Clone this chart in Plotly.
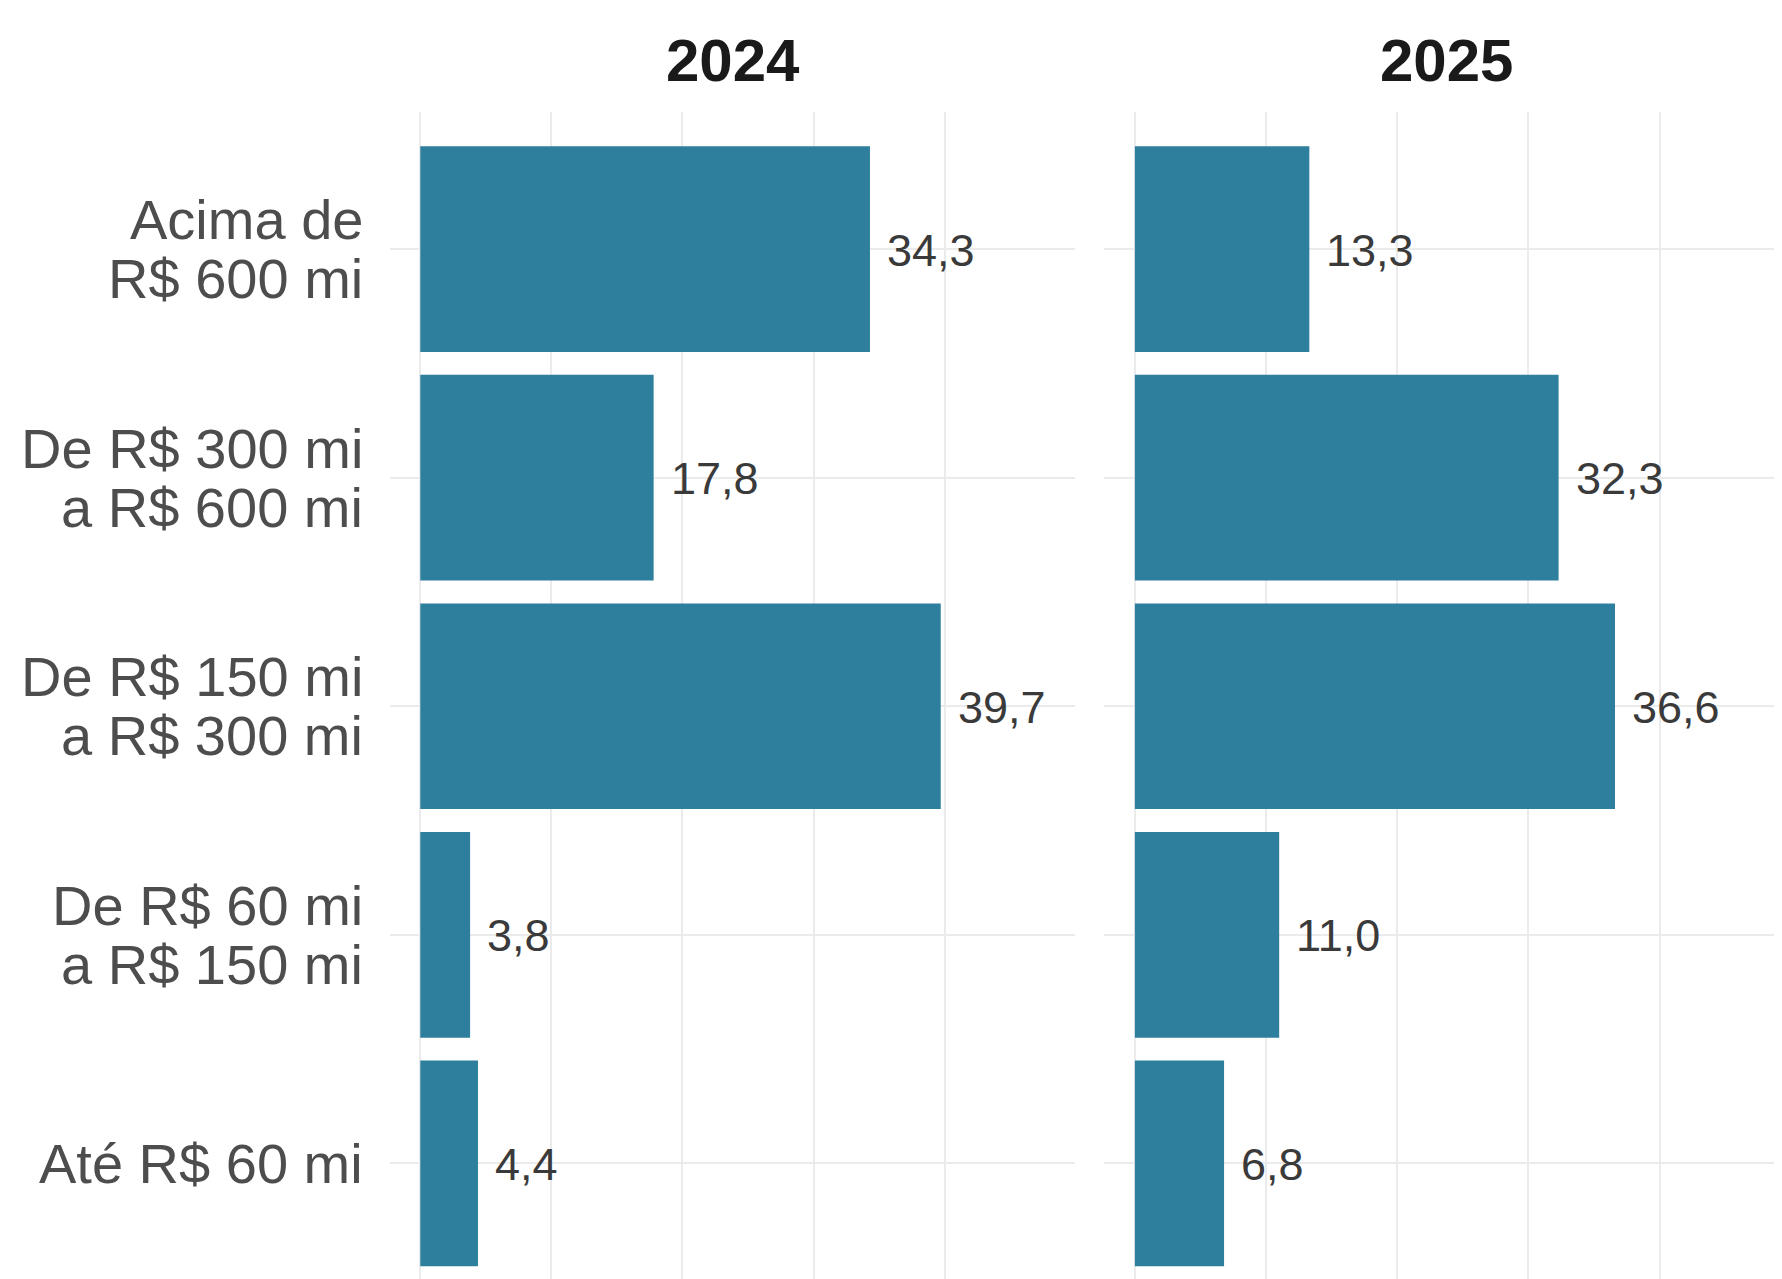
import plotly.graph_objects as go

# ---- data ----
categories = [
    "Acima de<br>R$ 600 mi",
    "De R$ 300 mi<br>a R$ 600 mi",
    "De R$ 150 mi<br>a R$ 300 mi",
    "De R$ 60 mi<br>a R$ 150 mi",
    "Até R$ 60 mi",
]
years = ["2024", "2025"]
values_2024 = [34.3, 17.8, 39.7, 3.8, 4.4]
values_2025 = [13.3, 32.3, 36.6, 11.0, 6.8]
x_ticks = [0, 10, 20, 30, 40]

# ---- styles ----
BAR = "#2E7F9D"
GRID = "#EBEBEB"
FONT = "Liberation Sans, Arial, sans-serif"
OFF = 8  # page body margin
W, H = 1782 - OFF, 1279 - OFF
ML, MT = 390 - OFF, 112 - OFF
PW, PH = W - ML, H - MT


def px_x(sx):
    return (sx - OFF - ML) / PW


fig = go.Figure()
series = [values_2024, values_2025]
for i, vals in enumerate(series):
    fig.add_trace(go.Bar(
        x=vals, y=categories, orientation="h", width=0.9,
        marker=dict(color=BAR, line=dict(width=0)),
        xaxis="x" if i == 0 else "x2", yaxis="y" if i == 0 else "y2",
        hoverinfo="skip", showlegend=False,
    ))

ann = []
# value labels
for i, vals in enumerate(series):
    xr = "x" if i == 0 else "x2"
    yr = "y" if i == 0 else "y2"
    for c, v in zip(categories, vals):
        ann.append(dict(
            x=v, y=c, xref=xr, yref=yr, xanchor="left", yanchor="middle",
            xshift=15, yshift=-1, showarrow=False,
            text=f"{v:.1f}".replace(".", ","),
            font=dict(family=FONT, size=45, color="#3A3A3A"),
        ))
# category labels (line spacing like the reference)
lab_x = px_x(365)
for c in categories:
    lines = c.split("<br>")
    n = len(lines)
    for k, ln in enumerate(lines):
        off = (k - (n - 1) / 2) * 59
        ann.append(dict(
            x=lab_x, y=c, xref="paper", yref="y", xanchor="right", yanchor="middle",
            yshift=-off, showarrow=False, text=ln,
            font=dict(family=FONT, size=56, color="#4D4D4D"),
        ))

d1 = [0, px_x(1075)]
d2 = [px_x(1104.3), 1.0]
# facet titles (panel 2 nominally extends to x=1789, beyond the visible page)
title_y = (H - (61 - OFF)) / PH
for yr, d in zip(years, [d1, [d2[0], px_x(1789)]]):
    ann.append(dict(
        x=(d[0] + d[1]) / 2, y=title_y, xref="paper", yref="paper",
        xanchor="center", yanchor="middle", showarrow=False,
        text=f"<b>{yr}</b>", font=dict(family=FONT, size=60, color="#1A1A1A"),
    ))

xcommon = dict(showticklabels=False, tickvals=x_ticks, showgrid=True,
               gridcolor=GRID, gridwidth=2, zeroline=False, showline=False, ticks="")
ycommon = dict(showticklabels=False, showgrid=True, gridcolor=GRID, gridwidth=2,
               zeroline=False, showline=False, ticks="", type="category",
               categoryorder="array", categoryarray=categories,
               range=[4.506, -0.6], domain=[0, 1])

fig.update_layout(
    width=W, height=H,
    margin=dict(l=ML, r=0, t=MT, b=0, pad=0),
    paper_bgcolor="white", plot_bgcolor="white",
    xaxis=dict(domain=d1, anchor="y", range=[-2.31, 49.94], **xcommon),
    xaxis2=dict(domain=d2, anchor="y2", range=[-2.33, 49.33], **xcommon),
    yaxis=dict(anchor="x", **ycommon),
    yaxis2=dict(anchor="x2", **ycommon),
    annotations=ann,
    barmode="group", bargap=0.1,
)

fig.write_html("out.html")
